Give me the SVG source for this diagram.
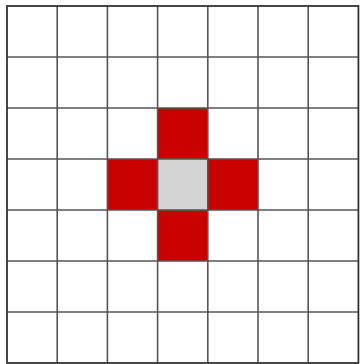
<svg xmlns="http://www.w3.org/2000/svg" width="362" height="364" viewBox="0 0 362 364">
<style>
.red{fill:#c80000}
.gray{fill:#d4d4d4}
.grid line{stroke:#555;stroke-width:1.6}
.border{fill:none;stroke:#333;stroke-width:1.8}
</style>
<rect width="362" height="364" fill="#fff"/>
<g id="cells">
<rect id="top" class="red" x="157.6" y="108" width="50.2" height="51"/>
<rect id="left" class="red" x="107.4" y="159" width="50.2" height="51"/>
<rect id="center" class="gray" x="157.6" y="159" width="50.2" height="51"/>
<rect id="right" class="red" x="207.8" y="159" width="50.2" height="51"/>
<rect id="bottom" class="red" x="157.6" y="210" width="50.2" height="51"/>
</g>
<g id="grid" class="grid">
<line x1="57.2" y1="6" x2="57.2" y2="363"/>
<line x1="107.4" y1="6" x2="107.4" y2="363"/>
<line x1="157.6" y1="6" x2="157.6" y2="363"/>
<line x1="207.8" y1="6" x2="207.8" y2="363"/>
<line x1="258" y1="6" x2="258" y2="363"/>
<line x1="308.2" y1="6" x2="308.2" y2="363"/>
<line x1="7" y1="57" x2="358.4" y2="57"/>
<line x1="7" y1="108" x2="358.4" y2="108"/>
<line x1="7" y1="159" x2="358.4" y2="159"/>
<line x1="7" y1="210" x2="358.4" y2="210"/>
<line x1="7" y1="261" x2="358.4" y2="261"/>
<line x1="7" y1="312" x2="358.4" y2="312"/>
</g>
<rect class="border" x="7" y="6" width="351.4" height="357"/>
</svg>
